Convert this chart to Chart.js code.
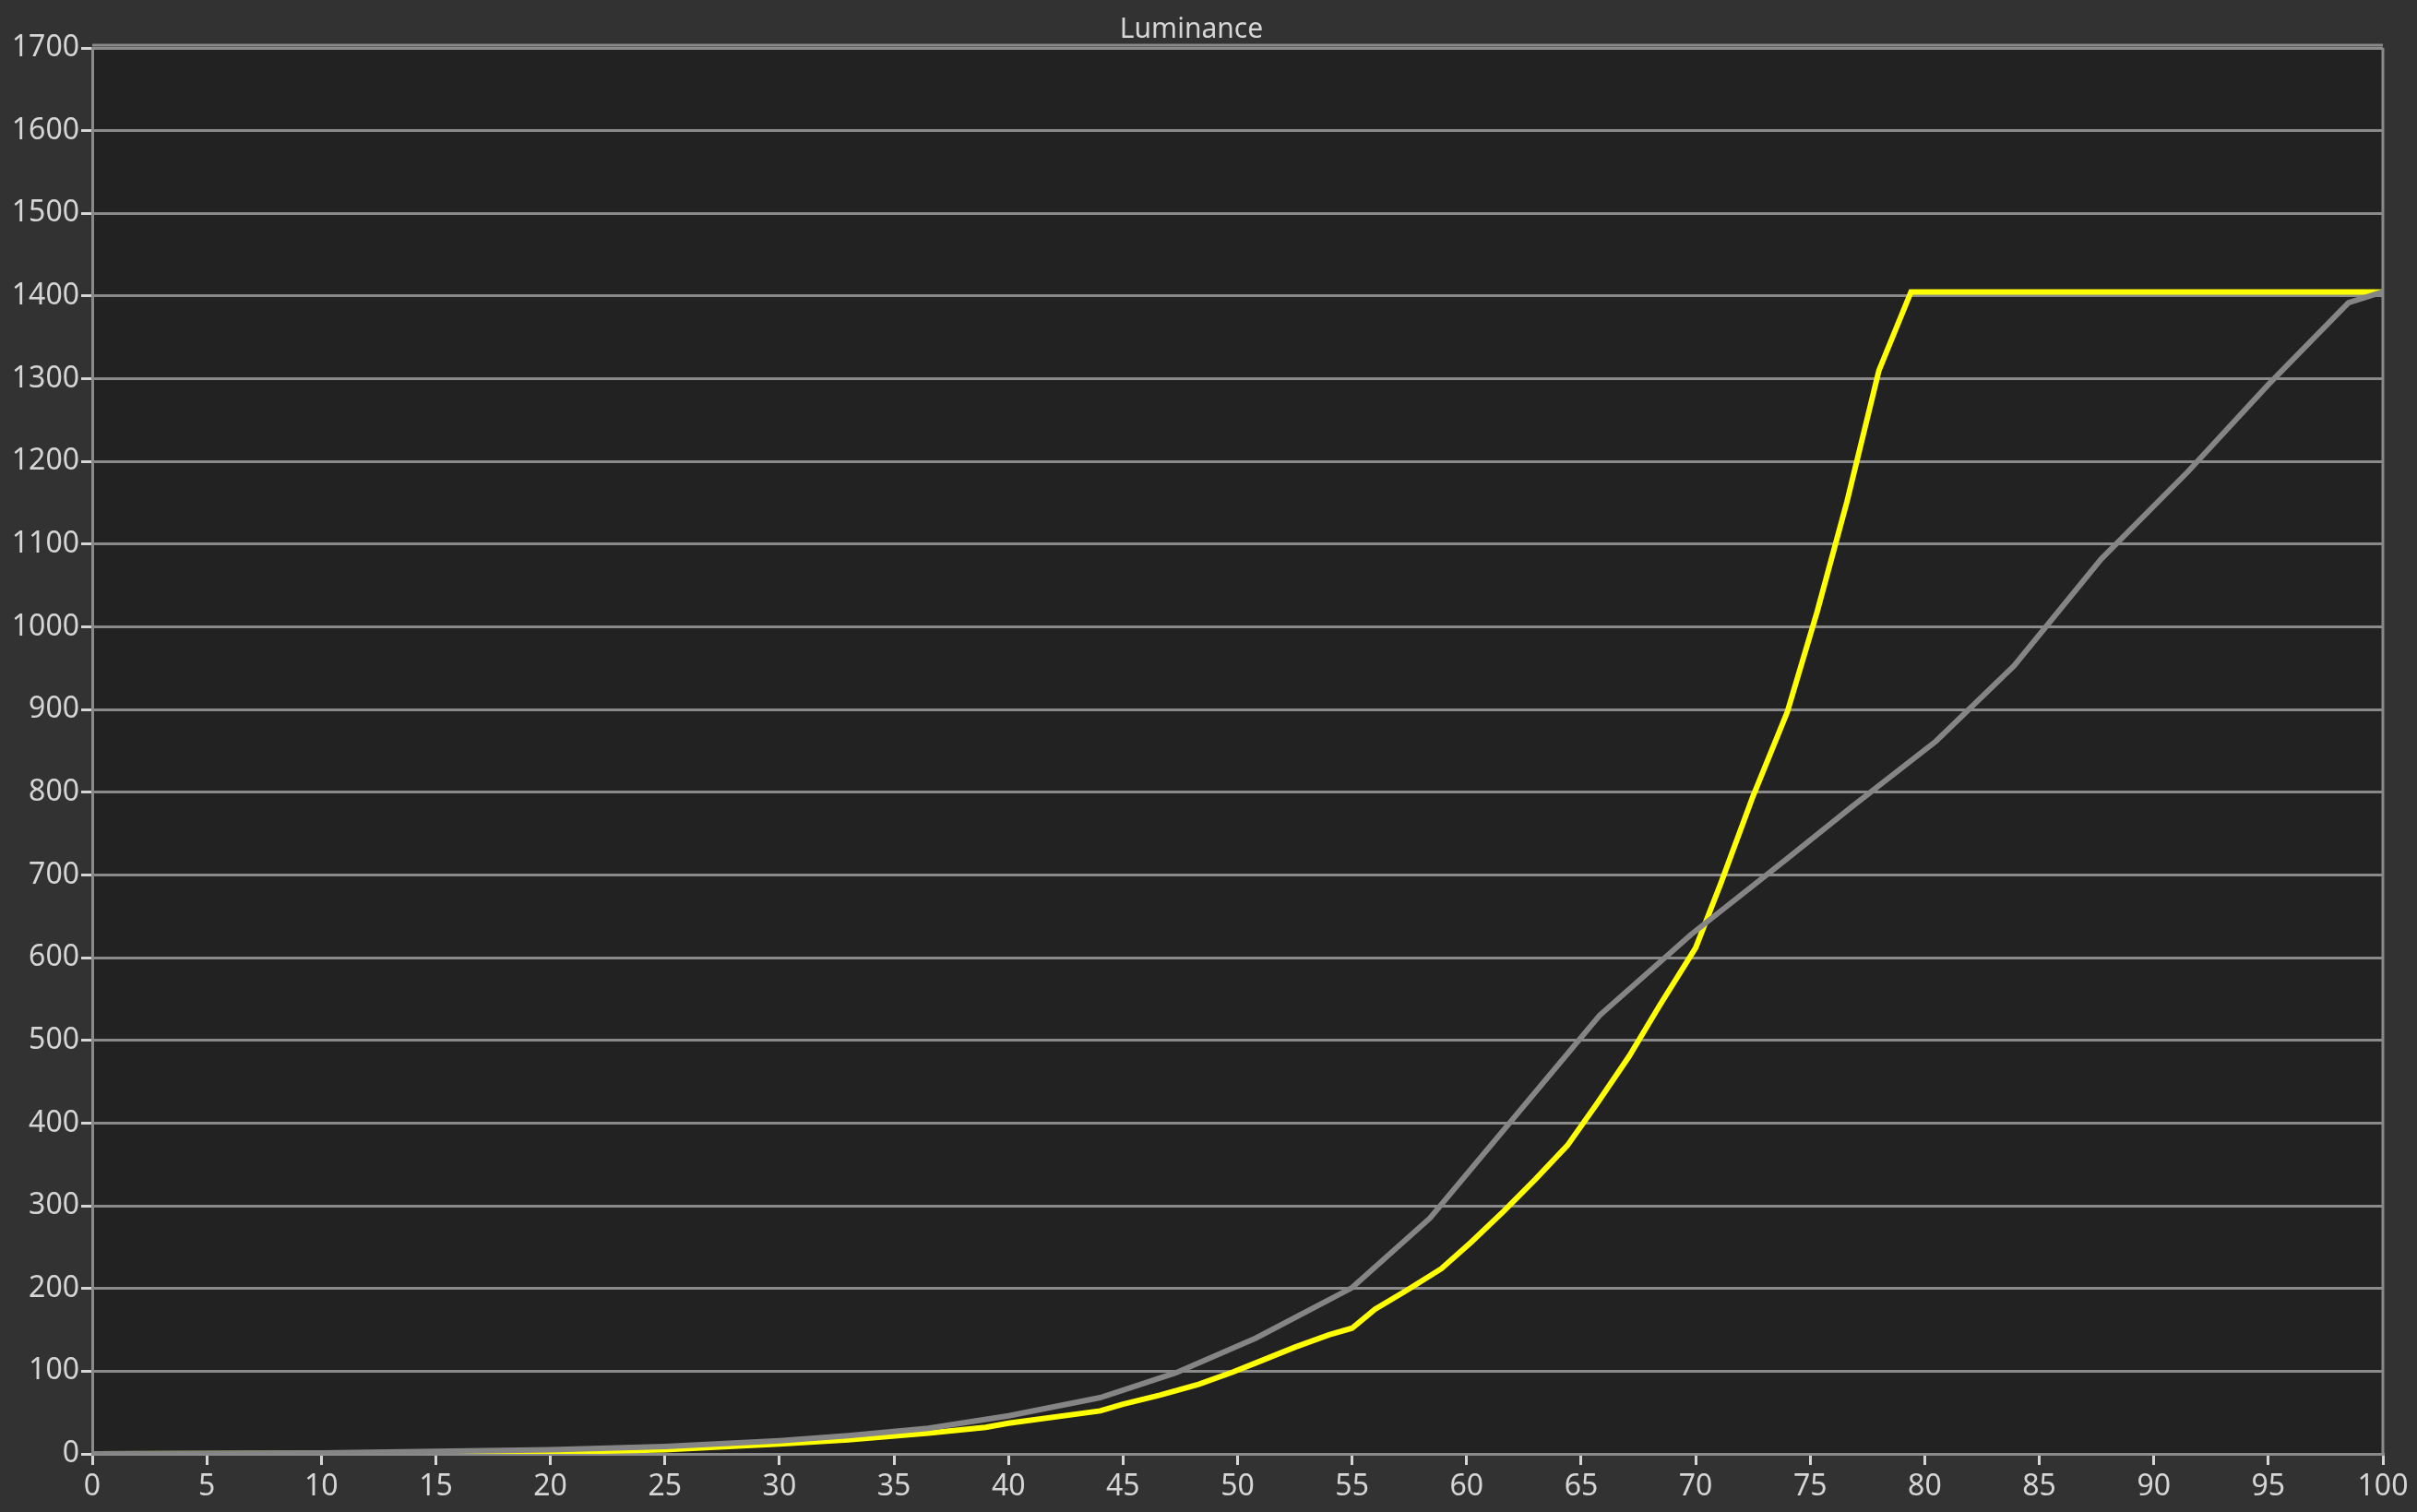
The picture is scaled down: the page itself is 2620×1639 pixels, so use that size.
<!DOCTYPE html>
<html>
<head>
<meta charset="utf-8">
<script src="https://cdn.jsdelivr.net/npm/chart.js@4/dist/chart.umd.min.js"></script>
<style>
  html, body { margin: 0; padding: 0; background: #323232; }
  canvas { display: block; }
</style>
</head>
<body>
<canvas id="canvas" width="2620" height="1639"></canvas>
<script>
// target curve (gray)
var targetX = [0, 10, 20, 25, 30, 33, 36.5, 40, 44, 47.3, 50.8, 55, 58.4, 65.8, 69.8, 74, 76.8, 80.5, 83.9, 87.7, 91.5, 95, 98.5, 100];
var targetY = [0.1, 1, 5, 9, 16, 22, 31, 46, 68, 98, 140, 201, 285, 530, 628, 720, 782, 862, 953, 1082, 1188, 1293, 1392, 1405];

// measured luminance (yellow)
var measX = [0, 10, 20, 25, 30, 33, 36.5, 39, 40, 44, 45, 46.6, 48.3, 49.8, 50.8, 52.5, 54, 55, 56, 57.4, 58.9, 60.2, 61.6, 63, 64.4, 65.7, 67.1, 68.4, 70, 71.1, 72.5, 74, 75.3, 76.6, 78, 79.4, 100];
var measY = [0.1, 0.5, 2, 5, 12, 17, 25, 32, 37, 52, 60, 71, 84, 99, 110, 129, 144, 152, 175, 198, 224, 256, 293, 332, 373, 424, 481, 541, 612, 690, 795, 897, 1018, 1151, 1310, 1405, 1405];

var xTicks = [0, 5, 10, 15, 20, 25, 30, 35, 40, 45, 50, 55, 60, 65, 70, 75, 80, 85, 90, 95, 100];
var yTicks = [0, 100, 200, 300, 400, 500, 600, 700, 800, 900, 1000, 1100, 1200, 1300, 1400, 1500, 1600, 1700];

function pairs(xs, ys) {
    return xs.map(function(x, i){ return {x: x, y: ys[i]}; });
}

var frameColor = '#8a8a8a';
var textColor = '#d6d6d6';

// plot background and frame around the chart area
var areaPlugin = {
    id: 'area',
    beforeDraw: function(chart) {
        var c = chart.ctx, a = chart.chartArea;
        c.save();
        c.fillStyle = '#222222';
        c.fillRect(a.left, a.top, a.right - a.left, a.bottom - a.top);
        c.restore();
    },
    afterDatasetsDraw: function(chart) {
        var c = chart.ctx, a = chart.chartArea;
        c.save();
        c.strokeStyle = frameColor;
        c.lineWidth = 3;
        c.beginPath();
        c.moveTo(a.left, a.top - 3);
        c.lineTo(a.right, a.top - 3);
        c.moveTo(a.right, a.top);
        c.lineTo(a.right, a.bottom);
        c.stroke();
        c.restore();
    }
};

const ctx = document.getElementById('canvas').getContext('2d');
const chart = new Chart(ctx, {
    type: 'line',
    data: {
        datasets: [{
            label: 'Target',
            data: pairs(targetX, targetY),
            borderColor: '#858585',
            borderWidth: 6,
            pointRadius: 0
        },
        {
            label: 'Luminance',
            data: pairs(measX, measY),
            borderColor: '#ffff00',
            borderWidth: 6,
            pointRadius: 0
        }]
    },
    options: {
        responsive: false,
        devicePixelRatio: 1,
        animation: false,
        layout: { padding: { left: 0, right: 37, top: 0, bottom: 0 } },
        elements: { line: { tension: 0 } },
        plugins: {
            legend: { display: false },
            tooltip: { enabled: false },
            title: {
                display: true,
                text: 'Luminance',
                color: textColor,
                font: { family: 'Noto Sans', size: 30, weight: 'normal' },
                padding: { top: 14, bottom: 2 }
            }
        },
        scales: {
            x: {
                type: 'linear',
                min: 0,
                max: 100,
                afterFit: function(s){ s.height = 63; },
                afterBuildTicks: function(s){ s.ticks = xTicks.map(function(v){ return {value: v}; }); },
                grid: { drawOnChartArea: false, color: textColor, lineWidth: 3, tickLength: 12 },
                border: { color: frameColor, width: 3 },
                ticks: {
                    color: textColor,
                    padding: 5,
                    maxRotation: 0,
                    autoSkip: false,
                    font: { family: 'Noto Sans', size: 32 },
                    callback: function(v){ return String(v); }
                }
            },
            y: {
                min: 0,
                max: 1700,
                afterFit: function(s){ s.width = 100; },
                afterBuildTicks: function(s){ s.ticks = yTicks.map(function(v){ return {value: v}; }); },
                grid: { color: frameColor, lineWidth: 3, tickLength: 12, tickColor: textColor },
                border: { color: frameColor, width: 3 },
                ticks: {
                    color: textColor,
                    padding: 2,
                    autoSkip: false,
                    font: { family: 'Noto Sans', size: 32 },
                    callback: function(v){ return String(v); }
                }
            }
        }
    },
    plugins: [areaPlugin]
});
</script>
</body>
</html>
